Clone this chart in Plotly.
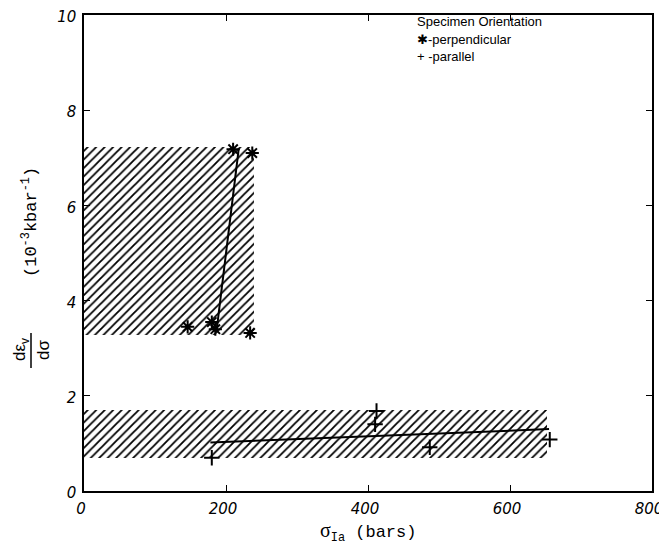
import plotly.graph_objects as go

# Hatched uncertainty bands: x range and y range
band_names = ["perpendicular band", "parallel band"]
band_x0 = [0, 0]
band_x1 = [240, 652]
band_y0 = [3.28, 0.70]
band_y1 = [7.22, 1.70]

# Perpendicular specimens (asterisks)
perp_x = [146, 180, 185, 210, 237, 234]
perp_y = [3.45, 3.55, 3.40, 7.18, 7.10, 3.32]
perp_fit_x = [187, 218]
perp_fit_y = [3.40, 7.20]

# Parallel specimens (plus signs)
par_x = [180, 412, 410, 487, 656]
par_y = [0.70, 1.68, 1.40, 0.92, 1.08]
par_fit_x = [178, 655]
par_fit_y = [1.02, 1.30]

x_ticks = [0, 200, 400, 600, 800]
y_ticks = [0, 2, 4, 6, 8, 10]

fig = go.Figure()

fig.add_trace(go.Bar(
    x=[(a + b) / 2 for a, b in zip(band_x0, band_x1)],
    width=[b - a for a, b in zip(band_x0, band_x1)],
    base=band_y0,
    y=[b - a for a, b in zip(band_y0, band_y1)],
    marker=dict(color="white", line=dict(width=0),
                pattern=dict(shape="/", fgcolor="black", bgcolor="white",
                             fgopacity=1, size=6, solidity=0.3)),
    showlegend=False, hoverinfo="skip",
))

fig.add_trace(go.Scatter(x=perp_fit_x, y=perp_fit_y, mode="lines",
                         line=dict(color="black", width=2), showlegend=False))
fig.add_trace(go.Scatter(x=par_fit_x, y=par_fit_y, mode="lines",
                         line=dict(color="black", width=2), showlegend=False))
fig.add_trace(go.Scatter(x=perp_x, y=perp_y, mode="markers",
                         marker=dict(symbol="asterisk", size=11, color="black",
                                     line=dict(color="black", width=2)),
                         showlegend=False))
fig.add_trace(go.Scatter(x=par_x, y=par_y, mode="markers",
                         marker=dict(symbol="cross-thin", size=11, color="black",
                                     line=dict(color="black", width=2)),
                         showlegend=False))

tickfont = dict(family="DejaVu Sans", size=15, color="black")
axis_common = dict(showline=True, linecolor="black", linewidth=1.5, mirror="ticks",
                   ticks="inside", ticklen=6, tickwidth=1.2, tickcolor="black",
                   showgrid=False, zeroline=False, tickfont=tickfont, automargin=False,
                   ticklabeloverflow="allow")

# The page body adds an 8px margin, so the figure is offset by 8px.
fig.update_layout(
    width=659, height=547,
    margin=dict(l=76, r=15, t=7, b=64),
    plot_bgcolor="white", paper_bgcolor="white",
    bargap=0,
    xaxis=dict(range=[0, 800], tickvals=x_ticks, ticklabelshift=-3,
               ticklabelstandoff=3,
               ticktext=["<i>%d</i>" % v for v in x_ticks], **axis_common),
    yaxis=dict(range=[0, 10], tickvals=y_ticks, ticklabelshift=2,
               ticklabelstandoff=3,
               ticktext=["<i>%d</i>" % v for v in y_ticks], **axis_common),
)

# Legend text (top right)
legend_lines = ["Specimen Orientation", "✱-perpendicular", "+ -parallel"]
for i, t in enumerate(legend_lines):
    fig.add_annotation(xref="paper", yref="paper", x=(415 - 84) / 568,
                       y=(491 - (22 + 17 * i)) / 476, text=t, showarrow=False,
                       xanchor="left", yanchor="middle",
                       font=dict(family="Liberation Sans", size=13, color="black"))

# x-axis title
fig.add_annotation(xref="paper", yref="paper", x=0.5, y=(491 - 532) / 476,
                   text="<span style='font-family:Liberation Serif;font-size:20px'>σ</span>"
                        "<sub>Ia</sub> (bars)",
                   showarrow=False, xanchor="center", yanchor="middle",
                   font=dict(family="Liberation Mono", size=17, color="black"))

# y-axis title: fraction dεv/dσ and units
fig.add_annotation(xref="paper", yref="paper", x=(21 - 84) / 568, y=(491 - 350) / 476,
                   text="dε<sub>v</sub>", textangle=-90, showarrow=False,
                   xanchor="center", yanchor="middle",
                   font=dict(family="Liberation Sans", size=17, color="black"))
fig.add_annotation(xref="paper", yref="paper", x=(43 - 84) / 568, y=(491 - 350) / 476,
                   text="dσ", textangle=-90, showarrow=False,
                   xanchor="center", yanchor="middle",
                   font=dict(family="Liberation Sans", size=17, color="black"))
fig.add_shape(type="line", xref="paper", yref="paper",
              x0=(31 - 84) / 568, x1=(31 - 84) / 568,
              y0=(491 - 333) / 476, y1=(491 - 368) / 476,
              line=dict(color="black", width=1.5))
fig.add_annotation(xref="paper", yref="paper", x=(30 - 84) / 568, y=(491 - 222) / 476,
                   text="(10<sup>-3</sup>kbar<sup>-1</sup>)", textangle=-90,
                   showarrow=False, xanchor="center", yanchor="middle",
                   font=dict(family="Liberation Mono", size=17, color="black"))

fig.write_html("out.html")
